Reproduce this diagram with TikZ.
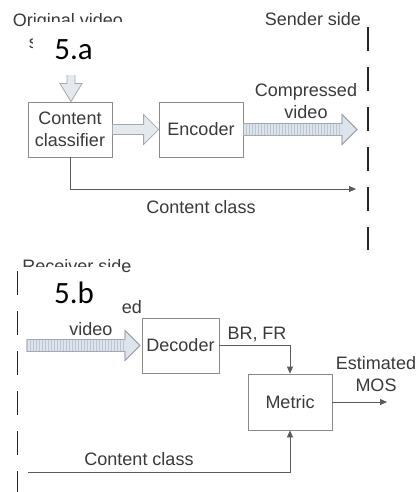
\documentclass[tikz,border=0pt]{standalone}
\usepackage{fontspec}
\setmainfont{Liberation Sans}
\newfontfamily\tagfont{Carlito}
\usetikzlibrary{arrows.meta,calc,patterns}

\definecolor{ink}{HTML}{3A3A3A}
\definecolor{wire}{HTML}{5A5A5A}
\definecolor{boxline}{HTML}{8A8A8A}
\definecolor{fatfill}{HTML}{E4E9EE}
\definecolor{fatline}{HTML}{A3A9AF}
\definecolor{vidfill}{HTML}{DCE5EE}
\definecolor{vidhatch}{HTML}{BCC6D0}

\tikzset{
  txt/.style={font=\fontsize{18}{22}\selectfont, text=ink, inner sep=0pt, align=center},
  block/.style={draw=boxline, line width=0.8pt, txt},
  link/.style={draw=wire, line width=0.8pt},
  tip/.style={-{Triangle[length=7pt,width=6pt]}},
  sidedash/.style={draw=black!85, line width=1.8pt, dash pattern=on 24pt off 16pt},
  fatarrow/.style={fill=fatfill, draw=fatline, line width=0.8pt, line join=miter},
  vidarrow/.style={fill=vidfill, draw=fatline, line width=0.8pt, line join=miter},
  tagtext/.style={font=\tagfont\fontsize{31}{31}\selectfont, text=black, inner sep=0pt},
}

% horizontal block arrow: style, from, to, shaft half width, head half width, head length
\newcommand\hblockarrow[6]{%
  \draw[#1] let \p1=(#2), \p2=(#3) in
    (\x1,\y1+#4) -- (\x2-#6,\y1+#4) -- (\x2-#6,\y1+#5) -- (\x2,\y1)
    -- (\x2-#6,\y1-#5) -- (\x2-#6,\y1-#4) -- (\x1,\y1-#4) -- cycle;}
% the same arrow with a hatched shaft (compressed video stream)
\newcommand\videoarrow[2]{%
  \hblockarrow{vidarrow}{#1}{#2}{6pt}{15pt}{15pt}
  \path[pattern=vertical lines, pattern color=vidhatch] let \p1=(#1), \p2=(#2) in
    (\x1+1pt,\y1+5.2pt) rectangle (\x2-15pt,\y1-5.2pt);
  \hblockarrow{draw=fatline, line width=0.8pt, line join=miter}{#1}{#2}{6pt}{15pt}{15pt}}

\begin{document}
\begin{tikzpicture}[x=1pt, y=-1pt]
\useasboundingbox (0,0) rectangle (419,492);
\fill[white] (0,0) rectangle (419,492);

% ---------- sender side ----------
\node[txt, anchor=north] (srclab) at (68,13) {Original video\\sequence};
\node[txt, anchor=north] (sendlab) at (313,12) {Sender side};
\coordinate (sendtop) at (368,27);
\coordinate (sendbot) at (368,250);
\draw[sidedash] (sendtop) -- (sendbot);

\node[block, minimum width=84pt, minimum height=55pt] (cls) at (70,129.5) {Content\\classifier};
\node[block, minimum width=84pt, minimum height=55pt] (enc) at (201,129.5) {Encoder};

% source video entering the classifier
\coordinate (srcin) at (71,58);
\draw[fatarrow] let \p1=(srcin), \p2=(cls.north) in
  (\x1-4pt,\y1) -- (\x1-4pt,\y2+18pt) -- (\x1-11pt,\y2+18pt) -- (\x1,\y2)
  -- (\x1+11pt,\y2+18pt) -- (\x1+4pt,\y2+18pt) -- (\x1+4pt,\y1) -- cycle;

\hblockarrow{fatarrow}{cls.east}{enc.west}{5pt}{15pt}{15pt}

\coordinate (cvout) at (357,130);
\videoarrow{enc.east}{cvout}
\node[txt, anchor=north] (cvlabA) at (306,83) {Compressed\\video};

\coordinate (ccout) at (356,189);
\draw[link, tip] (cls.south) |- (ccout);
\node[txt, anchor=north] (cclabA) at (201,200) {Content class};

% figure tag 5.a
\fill[white] (33,22) rectangle (130,75);
\node[tagtext, anchor=base] (tagA) at (73.5,60) {5.a};

% ---------- receiver side ----------
\node[txt, anchor=north] (recvlab) at (77,259) {Receiver side};
\coordinate (recvtop) at (17.5,271);
\coordinate (recvbot) at (17.5,492);
\draw[sidedash] (recvtop) -- (recvbot);

\node[block, minimum width=77pt, minimum height=55pt] (dec) at (180.5,345.5) {Decoder};
\node[block, minimum width=84pt, minimum height=56pt] (met) at (290,402) {Metric};

\coordinate (cvin) at (27,345.5);
\coordinate (decin) at (140,345.5);
\videoarrow{cvin}{decin}
\node[txt, anchor=north] (cvlabB) at (91,300) {Compressed\\video};

\draw[link, tip] (dec.east) -| (met.north);
\node[txt, anchor=north] (brfr) at (257,327) {BR, FR};

\coordinate (mosout) at (387,402);
\draw[link, tip] (met.east) -- (mosout);
\node[txt, anchor=north] (moslab) at (376,356) {Estimated\\MOS};

\coordinate (ccin) at (28,472);
\draw[link, tip] (ccin) -| (met.south);
\node[txt, anchor=north] (cclabB) at (139,452) {Content class};

% figure tag 5.b
\fill[white] (20,267) rectangle (121,318);
\node[tagtext, anchor=base] (tagB) at (74,303) {5.b};
\end{tikzpicture}
\end{document}
